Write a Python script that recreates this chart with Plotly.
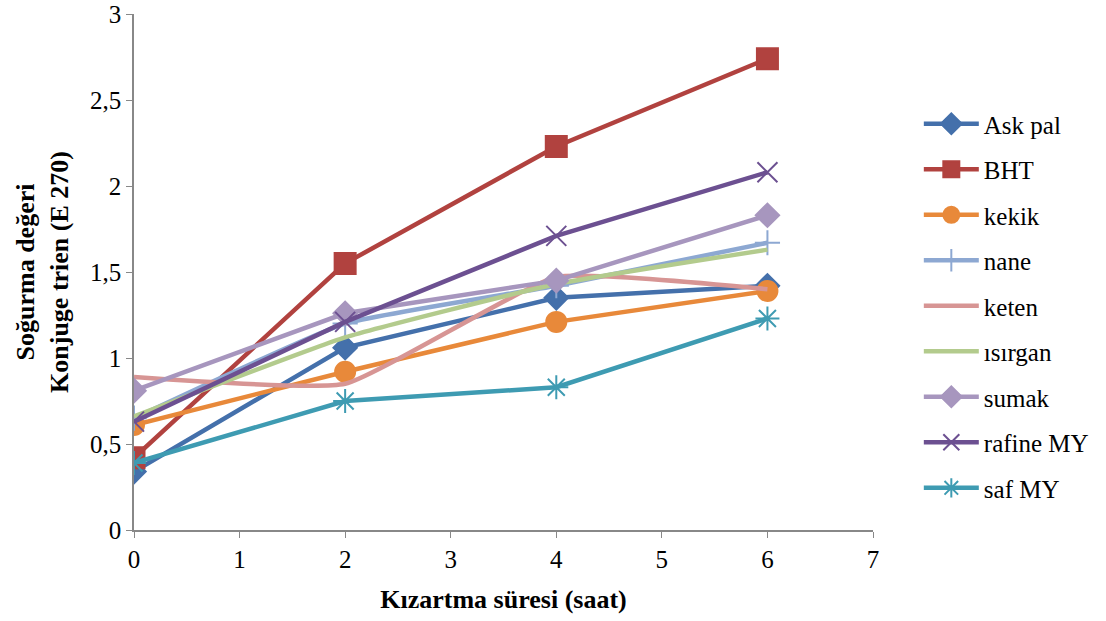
import plotly.graph_objects as go

x_hours = [0, 2, 4, 6]
series_names = ["Ask pal", "BHT", "kekik", "nane", "keten", "ısırgan", "sumak", "rafine MY", "saf MY"]
ask_pal = [0.34, 1.06, 1.35, 1.42]
bht = [0.42, 1.55, 2.23, 2.74]
kekik = [0.61, 0.92, 1.21, 1.39]
nane = [0.65, 1.20, 1.42, 1.67]
keten = [0.89, 0.85, 1.47, 1.40]
isirgan = [0.66, 1.12, 1.43, 1.63]
sumak = [0.81, 1.26, 1.45, 1.83]
rafine_my = [0.63, 1.21, 1.71, 2.08]
saf_my = [0.39, 0.75, 0.83, 1.23]
y_ticks = [0, 0.5, 1, 1.5, 2, 2.5, 3]
y_ticktext = ["0", "0,5", "1", "1,5", "2", "2,5", "3"]
x_ticks = [0, 1, 2, 3, 4, 5, 6, 7]

values = [ask_pal, bht, kekik, nane, keten, isirgan, sumak, rafine_my, saf_my]
colors = ["#4470AB", "#B1423F", "#E8893A", "#8DA8D2", "#D79594", "#B3CB8D", "#A796BE", "#6C5091", "#3E9BB2"]
symbols = ["diamond", "square", "circle", "cross-thin", None, None, "diamond", "x-thin", "asterisk"]
sizes = [18, 21, 20, 18, 0, 0, 18, 20, 20]
smooth = [False, False, False, True, True, True, False, False, False]

fig = go.Figure()
for name, vals, c, s, sz, sm in zip(series_names, values, colors, symbols, sizes, smooth):
    line = dict(color=c, width=4.5)
    if sm:
        line["shape"] = "spline"
        line["smoothing"] = 0.4
    if s is None:
        fig.add_trace(go.Scatter(x=x_hours, y=vals, name=name, legendgroup=name,
                                 mode="lines", line=line))
    else:
        fig.add_trace(go.Scatter(
            x=x_hours, y=vals, name=name, legendgroup=name, mode="lines+markers", line=line,
            marker=dict(symbol=s, size=sz, color=c, line=dict(color=c, width=2))))

font_family = "Liberation Serif, Times New Roman, serif"
fig.update_layout(
    width=1106, height=621,
    margin=dict(l=134, r=233, t=14, b=91),
    paper_bgcolor="white", plot_bgcolor="white",
    font=dict(family=font_family, size=25, color="black"),
    showlegend=True,
    legend=dict(x=1.062, y=0.434, xanchor="left", yanchor="middle",
                font=dict(family=font_family, size=25, color="black"),
                tracegroupgap=10, itemwidth=55,
                bgcolor="rgba(0,0,0,0)"),
    xaxis=dict(range=[0, 7], tickvals=x_ticks, showgrid=False, zeroline=False,
               showline=True, linecolor="#888888", linewidth=1.5, automargin=False,
               ticks="outside", ticklen=6, tickcolor="#888888",
               tickfont=dict(family=font_family, size=25),
               title=dict(text="<b>Kızartma süresi (saat)</b>", font=dict(family=font_family, size=26), standoff=18)),
    yaxis=dict(range=[0, 3], tickvals=y_ticks, ticktext=y_ticktext, showgrid=False, zeroline=False,
               showline=True, linecolor="#888888", linewidth=1.5, automargin=False,
               ticks="outside", ticklen=6, tickcolor="#888888",
               tickfont=dict(family=font_family, size=25),
               title=dict(text="<b>Soğurma değeri<br>Konjuge trien (E 270)</b>", font=dict(family=font_family, size=26), standoff=14)),
)
fig.write_html("out.html")
